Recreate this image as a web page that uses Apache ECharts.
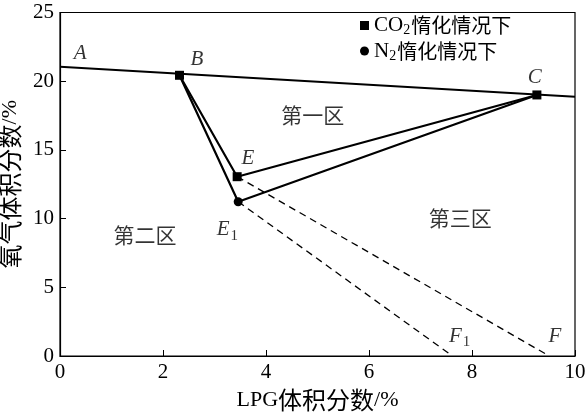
<!DOCTYPE html>
<html>
<head>
<meta charset="utf-8">
<script src="https://cdn.jsdelivr.net/npm/echarts@6/dist/echarts.min.js"></script>
<style>
  html, body { margin: 0; padding: 0; background: #fff; }
  #chart { width: 587px; height: 415px; }
</style>
</head>
<body>
<div id="chart"></div>
<script>
// 边界线 AC（上限氧浓度线）
const lineAC = [[0, 21.05], [10, 18.87]]
// CO2 惰化：B - E - C
const co2Points = [[2.32, 20.43], [3.44, 13.05], [9.26, 19.0]]
// N2 惰化：B - E1 - C
const n2Points = [[2.32, 20.43], [3.46, 11.23], [9.26, 19.0]]
// 虚线 E-F, E1-F1
const dashEF = [[3.44, 13.05], [9.5, 0]]
const dashE1F1 = [[3.46, 11.23], [7.62, 0]]
// 字母标注
const pointLabels = [
  ['A', 0.39, 22.05], ['B', 2.66, 21.55], ['C', 9.22, 20.3], ['E', 3.65, 14.34],
  ['E1', 3.25, 9.2], ['F1', 7.76, 1.45], ['F', 9.61, 1.4]
]
// 区域标注
const zoneLabels = [['第一区', 4.91, 17.55], ['第二区', 1.65, 8.8], ['第三区', 7.77, 10.05]]
const xTicks = [0, 2, 4, 6, 8, 10]
const yTicks = [0, 5, 10, 15, 20, 25]

const chart = echarts.init(document.getElementById('chart'))
const serif = 'Liberation Serif'
const cjk = 'Noto Sans CJK SC'

const option = {
  animation: false,
  grid: {
    left: 60, right: 12, top: 12.5, bottom: 59, outerBoundsMode: 'none', containLabel: false,
    show: true, borderColor: '#000', borderWidth: 1.2
  },
  legend: {
    left: 360, top: 15, orient: 'vertical', itemGap: 3, itemWidth: 9, itemHeight: 9,
    padding: 0, selectedMode: false,
    data: [
      { name: 'CO2', icon: 'rect' },
      { name: 'N2', icon: 'circle' }
    ],
    formatter: (name) => name === 'CO2' ? '{a|CO}{s|2}{c|惰化情况下}' : '{a|N}{s|2}{c|惰化情况下}',
    textStyle: {
      color: '#000',
      rich: {
        a: { fontFamily: serif, fontSize: 21, color: '#000', height: 22 },
        s: { fontFamily: serif, fontSize: 14, color: '#000', padding: [10, 1, 0, 0] },
        c: { fontFamily: cjk, fontSize: 20, color: '#000', height: 22 }
      }
    }
  },
  xAxis: {
    type: 'value', min: 0, max: 10, interval: 2,
    name: '{l|LPG}{c|体积分数}{l|/%}', nameLocation: 'middle', nameGap: 32,
    nameTextStyle: {
      rich: {
        l: { fontFamily: serif, fontSize: 22, color: '#000' },
        c: { fontFamily: cjk, fontSize: 24, color: '#000' }
      }
    },
    axisLine: { lineStyle: { color: '#000', width: 1.2 } },
    axisTick: { inside: true, length: 6, lineStyle: { color: '#000' } },
    axisLabel: { fontFamily: serif, fontSize: 21, color: '#000', margin: 6, formatter: v => xTicks.includes(v) ? String(v) : '' },
    splitLine: { show: false }
  },
  yAxis: {
    type: 'value', min: 0, max: 25, interval: 5,
    name: '{c|氧气体积分数}{l|/%}', nameLocation: 'middle', nameGap: 36,
    nameTextStyle: {
      rich: {
        l: { fontFamily: serif, fontSize: 22, color: '#000' },
        c: { fontFamily: cjk, fontSize: 24, color: '#000' }
      }
    },
    axisLine: { show: true, lineStyle: { color: '#000', width: 1.2 } },
    axisTick: { inside: true, length: 6, lineStyle: { color: '#000' } },
    axisLabel: { fontFamily: serif, fontSize: 21, color: '#000', margin: 6, formatter: v => yTicks.includes(v) ? String(v) : '' },
    splitLine: { show: false }
  },
  series: [
    {
      type: 'line', data: lineAC, symbol: 'none', silent: true,
      lineStyle: { color: '#000', width: 2 }
    },
    {
      name: 'CO2', type: 'line', data: co2Points, symbol: 'rect', symbolSize: 9,
      itemStyle: { color: '#000' }, lineStyle: { color: '#000', width: 2.2 }
    },
    {
      name: 'N2', type: 'line', symbolSize: 9,
      data: n2Points.map((p, i) => ({ value: p, symbol: i === 1 ? 'circle' : 'none' })),
      itemStyle: { color: '#000' }, lineStyle: { color: '#000', width: 2.2 }
    },
    {
      type: 'line', data: dashEF, symbol: 'none',
      lineStyle: { color: '#000', width: 1.3, type: [7, 5] }
    },
    {
      type: 'line', data: dashE1F1, symbol: 'none',
      lineStyle: { color: '#000', width: 1.3, type: [7, 5] }
    },
    {
      type: 'scatter', symbolSize: 0, silent: true,
      data: pointLabels.map(d => ({ value: [d[1], d[2]], name: d[0] })),
      label: {
        show: true, position: 'inside',
        formatter: p => p.name.length > 1 ? '{i|' + p.name[0] + '}{s|' + p.name.slice(1) + '}' : '{i|' + p.name + '}',
        rich: {
          i: { fontFamily: serif, fontStyle: 'italic', fontSize: 21, color: '#000' },
          s: { fontFamily: serif, fontSize: 15, color: '#000', padding: [12, 0, 0, 1] }
        }
      }
    },
    {
      type: 'scatter', symbolSize: 0, silent: true,
      data: zoneLabels.map(d => ({ value: [d[1], d[2]], name: d[0] })),
      label: {
        show: true, position: 'inside', formatter: p => p.name,
        fontFamily: cjk, fontSize: 21, color: '#000'
      }
    }
  ]
}

chart.setOption(option)
</script>
</body>
</html>
